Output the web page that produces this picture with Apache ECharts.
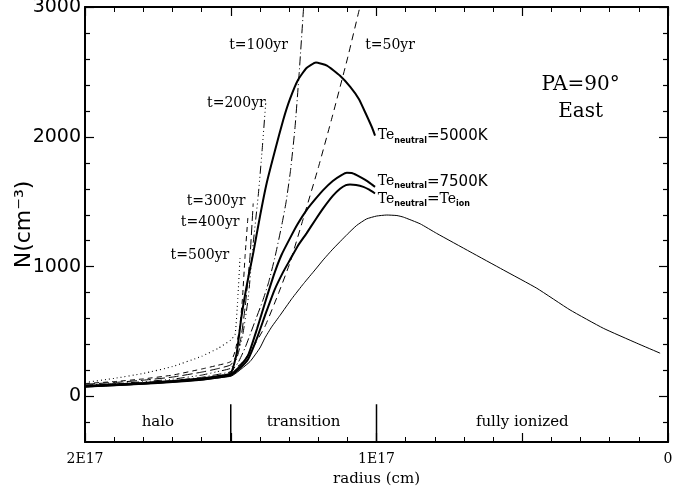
<!DOCTYPE html>
<html>
<head>
<meta charset="utf-8">
<script src="https://cdn.jsdelivr.net/npm/echarts@6.0.0/dist/echarts.min.js"></script>
<style>
  html, body { margin: 0; padding: 0; background: #fff; }
  #main { width: 691px; height: 495px; }
</style>
</head>
<body>
<div id="main"></div>
<script>
// radius in units of 1E17 cm, density in cm^-3
var t500 = [[2.0,108],[1.9,140],[1.8,178],[1.7,231],[1.6,310],[1.543,372],[1.5,436],[1.485,480],[1.476,750],[1.468,1077]];
var t400 = [[2.0,100],[1.9,115],[1.8,136],[1.7,165],[1.6,212],[1.55,238],[1.5,269],[1.485,350],[1.47,520],[1.46,750],[1.451,1077],[1.441,1385]];
var t300 = [[2.0,95],[1.9,108],[1.8,126],[1.7,150],[1.6,188],[1.55,212],[1.5,244],[1.48,320],[1.465,450],[1.45,700],[1.434,1077],[1.423,1487]];
var t200 = [[2.0,88],[1.9,99],[1.8,114],[1.7,134],[1.6,165],[1.55,190],[1.5,218],[1.48,290],[1.46,460],[1.44,760],[1.423,1180],[1.406,1540],[1.393,1880],[1.38,2260]];
var t100 = [[2.0,84],[1.9,93],[1.8,106],[1.7,122],[1.6,148],[1.55,168],[1.5,192],[1.475,260],[1.45,380],[1.42,560],[1.39,740],[1.37,880],[1.348,1077],[1.325,1320],[1.31,1500],[1.295,1740],[1.28,2060],[1.265,2500],[1.25,3000]];
var t50 = [[2.0,80],[1.9,88],[1.8,100],[1.7,115],[1.6,135],[1.55,152],[1.509,180],[1.463,257],[1.429,359],[1.383,538],[1.337,790],[1.297,1030],[1.25,1380],[1.2,1760],[1.15,2170],[1.1,2600],[1.057,3000]];
var te5000 = [[2.0,82],[1.9,92],[1.8,104],[1.7,120],[1.6,140],[1.55,155],[1.5,178],[1.48,330],[1.463,620],[1.443,880],[1.423,1103],[1.4,1385],[1.377,1641],[1.348,1897],[1.32,2130],[1.297,2290],[1.269,2440],[1.24,2530],[1.208,2572],[1.17,2548],[1.125,2470],[1.09,2385],[1.06,2290],[1.035,2170],[1.015,2070],[1.005,2010]];
var te7500 = [[2.0,80],[1.9,90],[1.8,101],[1.7,116],[1.6,135],[1.55,150],[1.5,170],[1.47,230],[1.44,320],[1.41,520],[1.38,740],[1.35,950],[1.326,1090],[1.297,1218],[1.27,1330],[1.24,1436],[1.21,1520],[1.183,1590],[1.15,1660],[1.12,1705],[1.102,1723],[1.085,1722],[1.068,1705],[1.04,1670],[1.02,1640],[1.005,1615]];
var teIon = [[2.0,78],[1.9,87],[1.8,98],[1.7,112],[1.6,130],[1.55,145],[1.5,163],[1.47,215],[1.44,290],[1.41,450],[1.38,640],[1.35,820],[1.32,960],[1.297,1052],[1.27,1160],[1.24,1257],[1.21,1360],[1.183,1449],[1.15,1545],[1.125,1600],[1.105,1628],[1.091,1634],[1.07,1630],[1.045,1615],[1.025,1593],[1.005,1564]];
var model = [[2.0,72],[1.9,84],[1.8,97],[1.7,111],[1.6,128],[1.55,142],[1.5,156],[1.485,175],[1.468,205],[1.434,269],[1.4,374],[1.383,450],[1.36,535],[1.331,625],[1.29,755],[1.25,870],[1.211,975],[1.183,1052],[1.15,1135],[1.1,1250],[1.068,1318],[1.034,1368],[1.0,1390],[0.965,1398],[0.93,1394],[0.908,1382],[0.85,1330],[0.794,1257],[0.679,1115],[0.565,975],[0.45,834],[0.336,667],[0.222,526],[0.107,411],[0.027,334]];

var regionEdges = [1.5, 1.0];
var yMajor = [0, 1000, 2000, 3000];
var yMinor = [-200, 200, 400, 600, 800, 1200, 1400, 1600, 1800, 2200, 2400, 2600, 2800];
var xLabels = { 2: '2E17', 1: '1E17', 0: '0' };

var SERIF = "'DejaVu Serif', serif";
var SANS = "'DejaVu Sans', sans-serif";

var chart = echarts.init(document.getElementById('main'));

function xAxisDef(pos, showLabel) {
  return {
    type: 'value', gridIndex: 0, position: pos, min: 0, max: 2, interval: 0.5, inverse: true,
    axisLine: { show: true, onZero: false, lineStyle: { color: '#000', width: 2 } },
    axisTick: { show: true, inside: true, length: 9, lineStyle: { color: '#000', width: 1.2 } },
    minorTick: { show: true, splitNumber: 5, length: 5, lineStyle: { color: '#000', width: 1 } },
    splitLine: { show: false },
    axisLabel: {
      show: showLabel, margin: 10, color: '#000', fontFamily: SERIF, fontSize: 14,
      showMinLabel: true, showMaxLabel: true,
      formatter: function (v) { return xLabels[v] !== undefined ? xLabels[v] : ''; }
    },
    name: showLabel ? 'radius (cm)' : '',
    nameLocation: 'middle', nameGap: 30, nameMoveOverlap: false,
    nameTextStyle: { color: '#000', fontFamily: SERIF, fontSize: 15 }
  };
}

function yAxisDef(grid, pos, ticks, len, showLabel) {
  return {
    type: 'value', gridIndex: grid, position: pos, min: -350, max: 3000,
    axisLine: { show: grid === 0, onZero: false, lineStyle: { color: '#000', width: 2 } },
    axisTick: { show: true, inside: true, length: len, customValues: ticks, lineStyle: { color: '#000', width: 1.2 } },
    axisLabel: {
      show: showLabel, customValues: ticks, margin: 4, color: '#000', fontFamily: SANS, fontSize: 19,
      formatter: function (v) { return String(v); }
    },
    splitLine: { show: false },
    name: showLabel ? 'N(cm\u207B\u00B3)' : '',
    nameLocation: 'middle', nameGap: 50, nameRotate: 90, nameMoveOverlap: false,
    nameTextStyle: { color: '#000', fontFamily: SANS, fontSize: 22 }
  };
}

function curve(data, width, dash) {
  return {
    type: 'line', xAxisIndex: 0, yAxisIndex: 0, data: data, symbol: 'none',
    smooth: 0.15, clip: true, silent: true,
    lineStyle: { color: '#000', width: width, type: dash || 'solid' }
  };
}

var series = [
  curve(t500, 1.1, [1, 3]),
  curve(t400, 1, [5, 4]),
  curve(t300, 1, [10, 4]),
  curve(t200, 1, [8, 3, 1, 3, 1, 3, 1, 3]),
  curve(t100, 1, [9, 3, 1, 3]),
  curve(t50, 1, [7, 5]),
  curve(te5000, 2, null),
  curve(te7500, 2, null),
  curve(teIon, 2, null),
  curve(model, 1, null)
];
regionEdges.forEach(function (r) {
  series.push({
    type: 'line', xAxisIndex: 0, yAxisIndex: 0, symbol: 'none', silent: true,
    data: [[r, -350], [r, -60]],
    lineStyle: { color: '#000', width: 1.5 }
  });
});

var gridBox = { left: 85, right: 23, top: 7, bottom: 53, outerBoundsMode: 'none', containLabel: false };

chart.setOption({
  animation: false,
  backgroundColor: '#fff',
  grid: [gridBox, gridBox],
  xAxis: [
    xAxisDef('bottom', true),
    xAxisDef('top', false),
    { type: 'value', gridIndex: 1, min: 0, max: 2, show: false }
  ],
  yAxis: [
    yAxisDef(0, 'left', yMajor, 9, true),
    yAxisDef(0, 'right', yMajor, 9, false),
    yAxisDef(1, 'left', yMinor, 5, false),
    yAxisDef(1, 'right', yMinor, 5, false)
  ],
  series: series
});

// annotations, placed in data coordinates
function px(r, n) { return chart.convertToPixel({ gridIndex: 0 }, [r, n]); }

function note(text, r, n, align, font) {
  var p = px(r, n);
  return {
    type: 'text', silent: true,
    style: { x: p[0], y: p[1], text: text, fill: '#000', font: font || ('14px ' + SERIF), align: align, verticalAlign: 'middle' }
  };
}

var teRich = {
  b: { fontFamily: SERIF, fontSize: 14, lineHeight: 16, verticalAlign: 'top', fill: '#000' },
  s: { fontFamily: SANS, fontWeight: 'bold', fontSize: 8, lineHeight: 9, padding: [9, 0, 0, 0], verticalAlign: 'bottom', fill: '#000' },
  v: { fontFamily: SANS, fontSize: 15, lineHeight: 16, verticalAlign: 'top', fill: '#000' }
};

function teNote(text, r, n) {
  var p = px(r, n);
  return {
    type: 'text', silent: true,
    style: { x: p[0], y: p[1] - 8, text: text, rich: teRich, align: 'left', verticalAlign: 'top' }
  };
}

var graphics = [
  note('t=100yr', 1.304, 2705, 'right'),
  note('t=50yr', 1.039, 2705, 'left'),
  note('t=200yr', 1.38, 2258, 'right'),
  note('t=300yr', 1.45, 1505, 'right'),
  note('t=400yr', 1.47, 1344, 'right'),
  note('t=500yr', 1.505, 1090, 'right'),
  teNote('{b|Te}{s|neutral}{v|=5000K}', 0.996, 2000),
  teNote('{b|Te}{s|neutral}{v|=7500K}', 0.996, 1651),
  teNote('{b|Te}{s|neutral}{v|=}{b|Te}{s|ion}', 0.996, 1513),
  note('PA=90\u00B0', 0.3, 2398, 'center', '20px ' + SERIF),
  note('East', 0.3, 2190, 'center', '20px ' + SERIF),
  note('halo', 1.75, -200, 'center', '15px ' + SERIF),
  note('transition', 1.25, -200, 'center', '15px ' + SERIF),
  note('fully ionized', 0.5, -200, 'center', '15px ' + SERIF)
];

chart.setOption({ graphic: graphics });
</script>
</body>
</html>
